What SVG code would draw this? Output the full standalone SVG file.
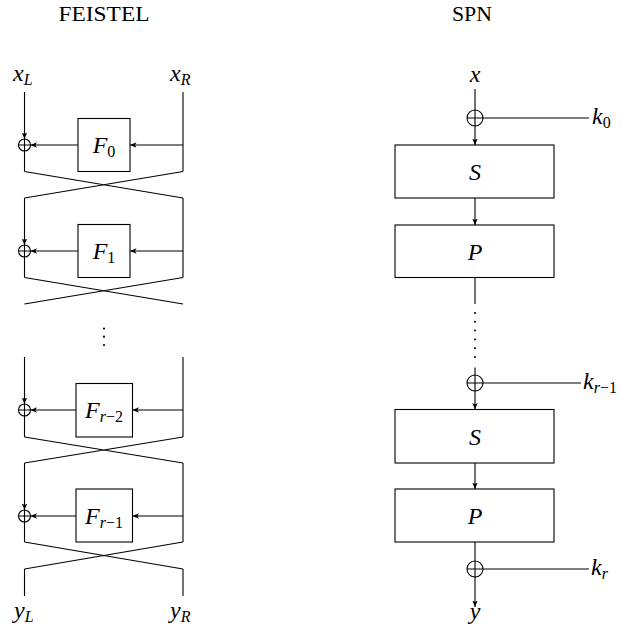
<svg xmlns="http://www.w3.org/2000/svg" width="623" height="632" viewBox="0 0 623 632">
<style>
.ln{stroke:#000;stroke-width:1.1;fill:none}
.ar{stroke:#000;stroke-width:1.1;fill:none;marker-end:url(#ah)}
.box{fill:#fff;stroke:#000;stroke-width:1.1}
.xor{fill:#fff;stroke:#000;stroke-width:1.1}
.m{font-family:'Liberation Serif','Times New Roman','DejaVu Serif',serif;font-size:24px;fill:#000}
.it{font-style:italic}
.s{font-size:16px}
.t{font-family:'Liberation Serif','Times New Roman','DejaVu Serif',serif;font-size:21px;fill:#000}
.dot{fill:#000}
</style>
<defs>
<marker id="ah" markerUnits="userSpaceOnUse" markerWidth="7" markerHeight="6" refX="6.5" refY="3" orient="auto">
<path d="M0,0.3 L6.5,3 L0,5.7 L1.6,3 Z" fill="#000"/>
</marker>
</defs>
<rect width="623" height="632" fill="#fff"/>

<text class="t" x="104" y="21" text-anchor="middle" textLength="91" lengthAdjust="spacingAndGlyphs">FEISTEL</text>
<text class="t" x="472" y="21" text-anchor="middle" textLength="40" lengthAdjust="spacingAndGlyphs">SPN</text>

<g id="connectors">
<path class="ar" d="M24.5,92 V139"/>
<path class="ln" d="M24.5,151 V171.5"/>
<path class="ln" d="M183,92 V171.5"/>
<path class="ar" d="M183,145 H130"/>
<path class="ar" d="M78,145 H30.5"/>
<path class="ln" d="M24.5,171.5 L183,198 M183,171.5 L24.5,198"/>
<path class="ar" d="M24.5,198 V245"/>
<path class="ln" d="M24.5,257 V277.5"/>
<path class="ln" d="M183,198 V277.5"/>
<path class="ar" d="M183,251 H130"/>
<path class="ar" d="M78,251 H30.5"/>
<path class="ln" d="M24.5,277.5 L183,304 M183,277.5 L24.5,304"/>
<path class="ar" d="M24.5,357 V404"/>
<path class="ln" d="M24.5,416 V437"/>
<path class="ln" d="M183,357 V437"/>
<path class="ar" d="M183,410 H132.5"/>
<path class="ar" d="M76,410 H30.5"/>
<path class="ln" d="M24.5,437 L183,463 M183,437 L24.5,463"/>
<path class="ar" d="M24.5,463 V510"/>
<path class="ln" d="M24.5,522 V542"/>
<path class="ln" d="M183,463 V542"/>
<path class="ar" d="M183,516 H132.5"/>
<path class="ar" d="M76,516 H30.5"/>
<path class="ln" d="M24.5,542 L183,569 M183,542 L24.5,569"/>
<path class="ln" d="M24.5,569 V596 M183,569 V596"/>
<path class="ln" d="M475,89 V110"/>
<path class="ar" d="M475,126 V145"/>
<path class="ln" d="M483,118 H589"/>
<path class="ar" d="M475,198 V225"/>
<path class="ln" d="M475,277.5 V304"/>
<path class="ln" d="M475,367.5 V375"/>
<path class="ar" d="M475,391 V409.5"/>
<path class="ln" d="M483,383 H581"/>
<path class="ar" d="M475,463 V489"/>
<path class="ln" d="M475,542 V561"/>
<path class="ln" d="M483,569 H589"/>
<path class="ar" d="M475,577 V607"/>
</g>

<g id="vdots-feistel">
<circle class="dot" cx="104" cy="328.5" r="1.1"/>
<circle class="dot" cx="104" cy="336.7" r="1.1"/>
<circle class="dot" cx="104" cy="345" r="1.1"/>
</g>
<g id="vdots-spn">
<circle class="dot" cx="475" cy="313" r="1"/>
<circle class="dot" cx="475" cy="321.8" r="1"/>
<circle class="dot" cx="475" cy="330.6" r="1"/>
<circle class="dot" cx="475" cy="339.4" r="1"/>
<circle class="dot" cx="475" cy="348.2" r="1"/>
<circle class="dot" cx="475" cy="357" r="1"/>
</g>

<g id="xL"><text class="m" x="13" y="81"><tspan class="it">x</tspan><tspan class="s it" dy="4">L</tspan></text></g>
<g id="xR"><text class="m" x="170" y="81"><tspan class="it">x</tspan><tspan class="s it" dy="4">R</tspan></text></g>
<g id="yL"><text class="m" x="14" y="618"><tspan class="it">y</tspan><tspan class="s it" dy="4">L</tspan></text></g>
<g id="yR"><text class="m" x="170" y="618"><tspan class="it">y</tspan><tspan class="s it" dy="4">R</tspan></text></g>

<g id="F0"><rect class="box" x="78" y="118.5" width="52" height="53"/><text class="m" x="104" y="152.5" text-anchor="middle"><tspan class="it">F</tspan><tspan class="s" dy="4">0</tspan></text></g>
<g id="xor0"><circle class="xor" cx="24.5" cy="145" r="6"/><path class="ln" d="M18.5,145 H30.5 M24.5,139 V151"/></g>
<g id="F1"><rect class="box" x="78" y="224.5" width="52" height="53"/><text class="m" x="104" y="258.5" text-anchor="middle"><tspan class="it">F</tspan><tspan class="s" dy="4">1</tspan></text></g>
<g id="xor1"><circle class="xor" cx="24.5" cy="251" r="6"/><path class="ln" d="M18.5,251 H30.5 M24.5,245 V257"/></g>
<g id="Fr2"><rect class="box" x="76" y="383.5" width="56.5" height="53.5"/><text class="m" x="104" y="417.5" text-anchor="middle"><tspan class="it">F</tspan><tspan class="s it" dy="4">r</tspan><tspan class="s">−2</tspan></text></g>
<g id="xor2"><circle class="xor" cx="24.5" cy="410" r="6"/><path class="ln" d="M18.5,410 H30.5 M24.5,404 V416"/></g>
<g id="Fr1"><rect class="box" x="76" y="489" width="56.5" height="53"/><text class="m" x="104" y="523.5" text-anchor="middle"><tspan class="it">F</tspan><tspan class="s it" dy="4">r</tspan><tspan class="s">−1</tspan></text></g>
<g id="xor3"><circle class="xor" cx="24.5" cy="516" r="6"/><path class="ln" d="M18.5,516 H30.5 M24.5,510 V522"/></g>

<g id="x"><text class="m it" x="475" y="82" text-anchor="middle">x</text></g>
<g id="sxor0"><circle class="xor" cx="475" cy="118" r="8"/><path class="ln" d="M467,118 H483 M475,110 V126"/></g>
<g id="k0"><text class="m" x="592" y="124"><tspan class="it">k</tspan><tspan class="s" dy="4">0</tspan></text></g>
<g id="S1"><rect class="box" x="395" y="145" width="159" height="53"/><text class="m it" x="475" y="179.5" text-anchor="middle">S</text></g>
<g id="P1"><rect class="box" x="395" y="225" width="159" height="52.5"/><text class="m it" x="475" y="259.5" text-anchor="middle">P</text></g>
<g id="sxor1"><circle class="xor" cx="475" cy="383" r="8"/><path class="ln" d="M467,383 H483 M475,375 V391"/></g>
<g id="kr1"><text class="m" x="583" y="389"><tspan class="it">k</tspan><tspan class="s it" dy="4">r</tspan><tspan class="s">−1</tspan></text></g>
<g id="S2"><rect class="box" x="395" y="409.5" width="159" height="53.5"/><text class="m it" x="475" y="444.5" text-anchor="middle">S</text></g>
<g id="P2"><rect class="box" x="395" y="489" width="159" height="53"/><text class="m it" x="475" y="523.5" text-anchor="middle">P</text></g>
<g id="sxor2"><circle class="xor" cx="475" cy="569" r="8"/><path class="ln" d="M467,569 H483 M475,561 V577"/></g>
<g id="kr"><text class="m" x="591" y="575"><tspan class="it">k</tspan><tspan class="s it" dy="4">r</tspan></text></g>
<g id="y"><text class="m it" x="475" y="619" text-anchor="middle">y</text></g>
</svg>
